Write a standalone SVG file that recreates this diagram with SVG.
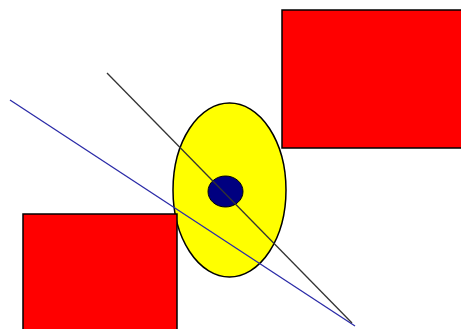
<svg xmlns="http://www.w3.org/2000/svg" width="461" height="329" viewBox="0 0 461 329">
<style>
.rect{fill:#ff0000;stroke:#000;stroke-width:1.5}
.line{fill:none;stroke-width:1.3}
</style>
<rect width="461" height="329" fill="#fff"/>
<g id="ellipse">
<ellipse cx="229.5" cy="190" rx="56.5" ry="87" fill="#ffff00" stroke="#000" stroke-width="1.5"/>
</g>
<g id="dot">
<ellipse cx="225.5" cy="191.5" rx="17.5" ry="15.5" fill="#000080" stroke="#000" stroke-width="1"/>
</g>
<g id="rect-top-right">
<rect class="rect" x="282" y="10" width="185" height="138"/>
</g>
<g id="rect-bottom-left">
<rect class="rect" x="23" y="214" width="154" height="125"/>
</g>
<g id="connectors">
<line class="line" x1="10" y1="100" x2="355" y2="326" stroke="#2b2ba8"/>
<line class="line" x1="107" y1="73" x2="352" y2="323" stroke="#333"/>
</g>
</svg>
